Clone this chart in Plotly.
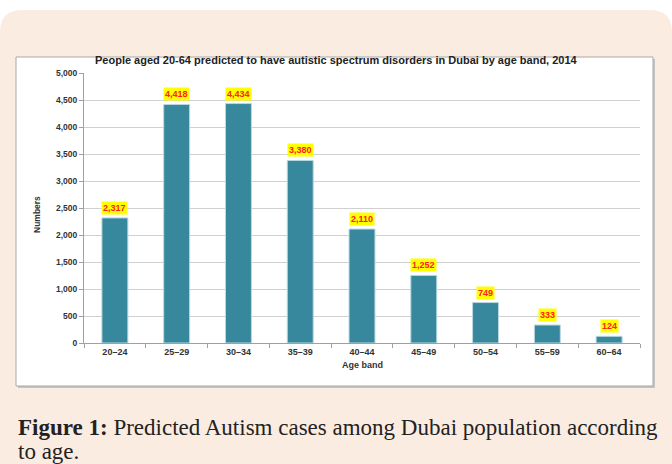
import plotly.graph_objects as go

age_bands = ["20\u201324", "25\u201329", "30\u201334", "35\u201339", "40\u201344", "45\u201349", "50\u201354", "55\u201359", "60\u201364"]
cases = [2317, 4418, 4434, 3380, 2110, 1252, 749, 333, 124]
y_ticks = [0, 500, 1000, 1500, 2000, 2500, 3000, 3500, 4000, 4500, 5000]

W, H = 672, 464
L, R, T, B = 84, 640, 73, 343

def px(x):
    return (x - L) / (R - L)

def py(y):
    return (B - y) / (B - T)

fig = go.Figure()
fig.add_trace(go.Bar(
    x=age_bands, y=cases, width=0.42,
    marker=dict(color="#37889D", line=dict(color="#B9D9E2", width=1)),
    hoverinfo="skip",
))

annotations = []
for a, v in zip(age_bands, cases):
    annotations.append(dict(
        x=a, y=v, xref="x", yref="y", text=f"{v:,}", showarrow=False,
        yanchor="bottom", yshift=3, bgcolor="#FFFF00", borderpad=1,
        font=dict(family="Liberation Sans", size=9, color="#FF2020", weight="bold"),
    ))

annotations += [
    dict(x=px(336), y=py(60), xref="paper", yref="paper", showarrow=False,
         xanchor="center", yanchor="middle",
         text="People aged 20-64 predicted to have autistic spectrum disorders in Dubai by age band, 2014",
         font=dict(family="Liberation Sans", size=11, color="#222222", weight="bold")),
    dict(x=px(37), y=py(215), xref="paper", yref="paper", showarrow=False, textangle=-90,
         xanchor="center", yanchor="middle",
         text="Numbers", font=dict(family="Liberation Sans", size=8.5, color="#333333", weight="bold")),
    dict(x=px(362), y=py(365), xref="paper", yref="paper", showarrow=False,
         xanchor="center", yanchor="middle",
         text="Age band", font=dict(family="Liberation Sans", size=9, color="#333333", weight="bold")),
    dict(x=px(16), y=py(427), xref="paper", yref="paper", showarrow=False,
         xanchor="left", yanchor="middle",
         text="<b>Figure 1:</b> Predicted Autism cases among Dubai population according",
         font=dict(family="Liberation Serif", size=23, color="#222222")),
    dict(x=px(16), y=py(451), xref="paper", yref="paper", showarrow=False,
         xanchor="left", yanchor="middle",
         text="to age.",
         font=dict(family="Liberation Serif", size=23, color="#222222")),
]

def rounded_top_rect(x0, y0, x1, y1, r):
    X0, X1 = px(x0), px(x1)
    Y0, Y1 = py(y0), py(y1)
    rx = r / (R - L)
    ry = r / (B - T)
    return (f"M {X0},{Y1} L {X0},{Y0 - ry} Q {X0},{Y0} {X0 + rx},{Y0} "
            f"L {X1 - rx},{Y0} Q {X1},{Y0} {X1},{Y0 - ry} L {X1},{Y1} Z")

shapes = [
    dict(type="path", xref="paper", yref="paper", layer="below",
         path=rounded_top_rect(0, 10, 672, 470, 22),
         fillcolor="#FBECE1", line=dict(width=0)),
    dict(type="rect", xref="paper", yref="paper", layer="below",
         x0=px(18), x1=px(655), y0=py(388), y1=py(59),
         fillcolor="#C4C4C4", line=dict(width=0)),
    dict(type="rect", xref="paper", yref="paper", layer="below",
         x0=px(16), x1=px(653), y0=py(386), y1=py(57),
         fillcolor="#FFFFFF", line=dict(color="#A8A8A8", width=1)),
]

fig.update_layout(
    width=W, height=H,
    margin=dict(l=L, r=W - R, t=T, b=H - B, pad=0),
    paper_bgcolor="#FFFFFF", plot_bgcolor="rgba(0,0,0,0)",
    showlegend=False,
    annotations=annotations, shapes=shapes,
    xaxis=dict(
        showgrid=False, showline=True, linecolor="#A0A0A0", linewidth=1,
        ticks="outside", ticklen=4, tickcolor="#A0A0A0", tickson="boundaries",
        tickfont=dict(family="Liberation Sans", size=9, color="#333333", weight="bold"),
        fixedrange=True,
    ),
    yaxis=dict(
        range=[0, 5000], tickvals=y_ticks, tickformat=",d",
        showgrid=True, gridcolor="#D0D0D0", gridwidth=1,
        showline=True, linecolor="#A0A0A0", linewidth=1,
        ticks="outside", ticklen=4, tickcolor="#A0A0A0",
        tickfont=dict(family="Liberation Sans", size=8.5, color="#333333", weight="bold"),
        zeroline=False, fixedrange=True,
    ),
)

fig.write_html("out.html", config={"displayModeBar": False})
